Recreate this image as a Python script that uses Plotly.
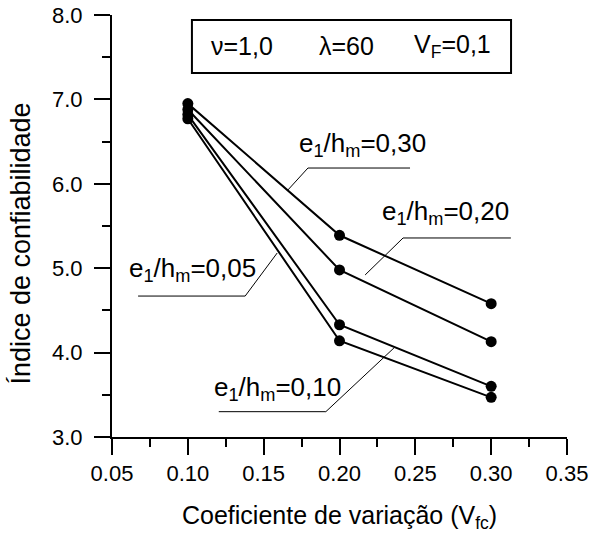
import plotly.graph_objects as go

# ---- data ----
vfc = [0.10, 0.20, 0.30]
series_names = ["e1/hm=0,30", "e1/hm=0,20", "e1/hm=0,10", "e1/hm=0,05"]
beta_030 = [6.95, 5.39, 4.58]
beta_020 = [6.88, 4.98, 4.13]
beta_010 = [6.82, 4.33, 3.60]
beta_005 = [6.77, 4.14, 3.47]
x_ticks = [0.05, 0.10, 0.15, 0.20, 0.25, 0.30, 0.35]
y_ticks = [3.0, 4.0, 5.0, 6.0, 7.0, 8.0]

FONT = "Liberation Sans, Arial, sans-serif"

fig = go.Figure()
for name, ys in zip(series_names, [beta_030, beta_020, beta_010, beta_005]):
    fig.add_trace(go.Scatter(
        x=vfc, y=ys, mode="lines+markers", name=name,
        line=dict(color="black", width=2),
        marker=dict(color="black", size=11),
        showlegend=False,
    ))

# label annotations: (text, x, y) with leader polylines in data coords
labels = [
    ("e<sub>1</sub>/h<sub>m</sub>=0,30", 0.1720, 6.47),
    ("e<sub>1</sub>/h<sub>m</sub>=0,20", 0.2267, 5.66),
    ("e<sub>1</sub>/h<sub>m</sub>=0,05", 0.0599, 4.98),
    ("e<sub>1</sub>/h<sub>m</sub>=0,10", 0.1159, 3.58),
]
leaders = [
    [(0.2465, 6.187), (0.1792, 6.187), (0.1660, 5.927)],
    [(0.3130, 5.358), (0.2419, 5.358), (0.2169, 4.920)],
    [(0.0672, 4.670), (0.1378, 4.670), (0.1589, 5.180)],
    [(0.1204, 3.300), (0.1910, 3.300), (0.2359, 4.055)],
]

shapes = []
for pts in leaders:
    for (x0, y0), (x1, y1) in zip(pts[:-1], pts[1:]):
        shapes.append(dict(type="line", xref="x", yref="y", x0=x0, y0=y0, x1=x1, y1=y1,
                           line=dict(color="black", width=1)))
# parameter box
shapes.append(dict(type="rect", xref="x", yref="y", x0=0.1027, x1=0.3131, y0=7.313, y1=7.94,
                   line=dict(color="black", width=2), fillcolor="white", layer="above"))

annotations = []
for text, x, y in labels:
    annotations.append(dict(text=text, x=x, y=y, xref="x", yref="y", showarrow=False,
                            xanchor="left", yanchor="middle",
                            font=dict(family=FONT, size=26, color="black")))

box_texts = [("ν=1,0", 0.1357), ("λ=60", 0.2043), ("V<sub>F</sub>=0,1", 0.2742)]
for text, x in box_texts:
    annotations.append(dict(text=text, x=x, y=7.63, xref="x", yref="y", showarrow=False,
                            xanchor="center", yanchor="middle",
                            font=dict(family=FONT, size=25, color="black")))

annotations.append(dict(text="Coeficiente de variação (V<sub>fc</sub>)", x=0.5, y=-0.19,
                        xref="paper", yref="paper", showarrow=False, xanchor="center", yanchor="middle",
                        font=dict(family=FONT, size=25, color="black")))
annotations.append(dict(text="Índice de confiabilidade", x=-0.202, y=0.4585, textangle=-90,
                        xref="paper", yref="paper", showarrow=False, xanchor="center", yanchor="middle",
                        font=dict(family=FONT, size=27, color="black")))

fig.update_layout(
    width=589, height=533,
    margin=dict(l=112, r=22, t=15, b=96),
    paper_bgcolor="white", plot_bgcolor="white",
    shapes=shapes, annotations=annotations,
    font=dict(family=FONT, color="black"),
)
fig.update_xaxes(
    range=[0.05, 0.35], tickvals=x_ticks, ticktext=[f"{v:.2f}" for v in x_ticks],
    automargin=False,
    showgrid=False, zeroline=False, showline=True, linecolor="black", linewidth=2,
    ticks="outside", ticklen=16, tickwidth=2, tickcolor="black",
    minor=dict(ticks="outside", ticklen=8, tickwidth=2, tickcolor="black", dtick=0.025, showgrid=False),
    tickfont=dict(family=FONT, size=22, color="black"),
)
fig.update_yaxes(
    range=[3.0, 8.0], tickvals=y_ticks, ticktext=[f"{v:.1f}" for v in y_ticks],
    automargin=False, ticklabelstandoff=7,
    showgrid=False, zeroline=False, showline=True, linecolor="black", linewidth=2,
    ticks="outside", ticklen=16, tickwidth=2, tickcolor="black",
    minor=dict(ticks="outside", ticklen=8, tickwidth=2, tickcolor="black", dtick=0.5, showgrid=False),
    tickfont=dict(family=FONT, size=22, color="black"),
)

fig.write_html("out.html")
